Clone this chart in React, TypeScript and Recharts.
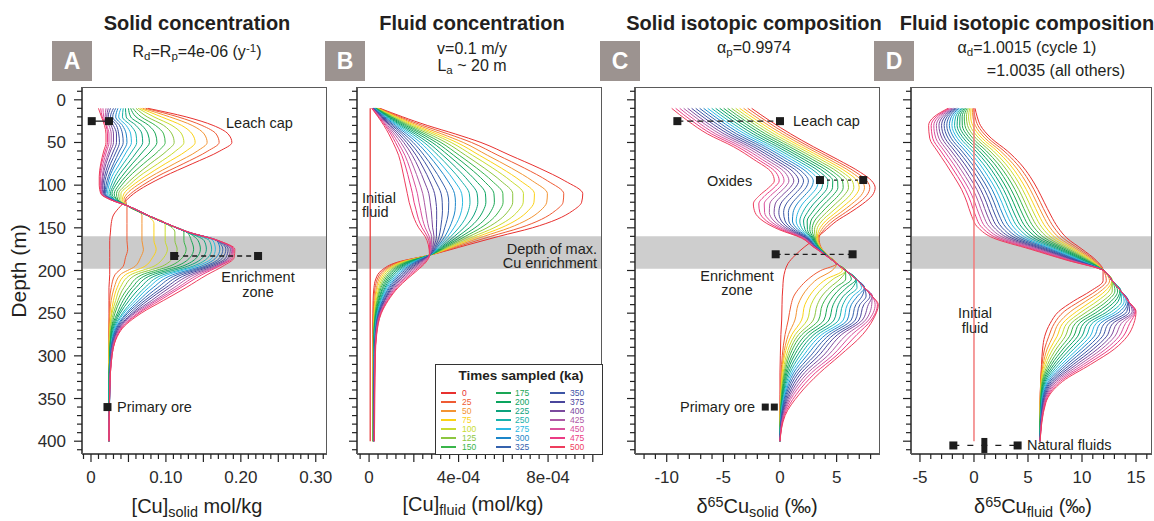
import React from "react";
import { LineChart, Line, XAxis, YAxis, ReferenceArea, ReferenceLine, ReferenceDot } from "recharts";

const FONT = '"Liberation Sans", Arial, Helvetica, sans-serif';
const INK = "#231f20";

const TIMES = [0, 25, 50, 75, 100, 125, 150, 175, 200, 225, 250, 275, 300, 325, 350, 375, 400, 425, 450, 475, 500];
const TIME_COLORS = [
  "#e8312f", "#ef5b34", "#f39433", "#fcd217", "#c9dc2f", "#8cc63f", "#39b54a",
  "#1aa655", "#0aa45e", "#0ba27c", "#17b2ac", "#2ab9e3", "#1c86c9", "#3562ad",
  "#3c55a5", "#4a469c", "#7b4a9e", "#ad5aa5", "#d9509d", "#eb3b84", "#ee3d5d",
];

// A: solid [Cu], mol/kg — one row per depth, one value per time
const depthA = [10, 20, 30, 40, 50, 60, 75, 90, 100, 110, 117, 125, 135, 145, 155, 165, 175, 185, 195, 205, 220, 235, 250, 270, 300, 340, 400];
const solidConc = [
  [0.076, 0.073, 0.069, 0.066, 0.063, 0.060, 0.056, 0.053, 0.050, 0.046, 0.043, 0.040, 0.036, 0.033, 0.030, 0.026, 0.023, 0.020, 0.016, 0.013, 0.010],
  [0.127, 0.116, 0.105, 0.094, 0.084, 0.075, 0.067, 0.060, 0.053, 0.047, 0.042, 0.037, 0.033, 0.029, 0.026, 0.023, 0.021, 0.019, 0.017, 0.015, 0.014],
  [0.163, 0.148, 0.135, 0.121, 0.108, 0.097, 0.086, 0.077, 0.068, 0.060, 0.053, 0.047, 0.042, 0.038, 0.034, 0.030, 0.027, 0.024, 0.021, 0.020, 0.018],
  [0.183, 0.167, 0.151, 0.135, 0.121, 0.108, 0.097, 0.086, 0.076, 0.068, 0.060, 0.053, 0.047, 0.042, 0.037, 0.034, 0.030, 0.027, 0.024, 0.022, 0.020],
  [0.188, 0.171, 0.155, 0.139, 0.124, 0.111, 0.099, 0.088, 0.078, 0.069, 0.061, 0.054, 0.048, 0.043, 0.038, 0.034, 0.030, 0.027, 0.024, 0.022, 0.020],
  [0.172, 0.156, 0.142, 0.127, 0.113, 0.101, 0.090, 0.080, 0.070, 0.062, 0.055, 0.048, 0.043, 0.038, 0.034, 0.030, 0.026, 0.024, 0.021, 0.019, 0.017],
  [0.135, 0.123, 0.111, 0.099, 0.089, 0.079, 0.070, 0.062, 0.055, 0.049, 0.043, 0.038, 0.033, 0.030, 0.026, 0.023, 0.020, 0.018, 0.016, 0.014, 0.013],
  [0.097, 0.088, 0.080, 0.072, 0.064, 0.058, 0.051, 0.046, 0.041, 0.036, 0.032, 0.028, 0.025, 0.023, 0.020, 0.018, 0.016, 0.015, 0.013, 0.012, 0.011],
  [0.075, 0.069, 0.062, 0.056, 0.051, 0.046, 0.041, 0.037, 0.033, 0.030, 0.027, 0.024, 0.022, 0.020, 0.018, 0.016, 0.015, 0.014, 0.013, 0.012, 0.011],
  [0.057, 0.053, 0.048, 0.044, 0.040, 0.037, 0.034, 0.031, 0.028, 0.026, 0.024, 0.022, 0.020, 0.019, 0.018, 0.017, 0.016, 0.015, 0.014, 0.014, 0.013],
  [0.048, 0.046, 0.044, 0.042, 0.040, 0.038, 0.036, 0.035, 0.034, 0.032, 0.031, 0.030, 0.030, 0.029, 0.028, 0.028, 0.027, 0.027, 0.026, 0.026, 0.026],
  [0.039, 0.048, 0.050, 0.050, 0.050, 0.050, 0.050, 0.050, 0.050, 0.050, 0.050, 0.051, 0.051, 0.051, 0.051, 0.051, 0.051, 0.051, 0.051, 0.051, 0.051],
  [0.030, 0.048, 0.068, 0.074, 0.074, 0.074, 0.074, 0.074, 0.074, 0.074, 0.074, 0.075, 0.075, 0.075, 0.075, 0.075, 0.075, 0.075, 0.075, 0.075, 0.075],
  [0.027, 0.048, 0.068, 0.084, 0.099, 0.100, 0.100, 0.100, 0.100, 0.100, 0.100, 0.101, 0.101, 0.101, 0.101, 0.101, 0.101, 0.101, 0.101, 0.101, 0.101],
  [0.026, 0.048, 0.068, 0.084, 0.099, 0.112, 0.124, 0.128, 0.128, 0.128, 0.128, 0.129, 0.129, 0.129, 0.129, 0.129, 0.130, 0.130, 0.130, 0.130, 0.130],
  [0.025, 0.048, 0.068, 0.084, 0.099, 0.112, 0.124, 0.134, 0.143, 0.151, 0.158, 0.163, 0.168, 0.168, 0.168, 0.169, 0.169, 0.169, 0.170, 0.170, 0.170],
  [0.025, 0.049, 0.070, 0.087, 0.102, 0.115, 0.127, 0.137, 0.146, 0.154, 0.161, 0.166, 0.172, 0.176, 0.180, 0.183, 0.186, 0.188, 0.189, 0.190, 0.192],
  [0.025, 0.046, 0.066, 0.082, 0.097, 0.110, 0.122, 0.132, 0.141, 0.149, 0.156, 0.162, 0.167, 0.172, 0.176, 0.180, 0.183, 0.185, 0.187, 0.189, 0.191],
  [0.025, 0.043, 0.059, 0.072, 0.084, 0.095, 0.105, 0.114, 0.122, 0.129, 0.136, 0.141, 0.147, 0.152, 0.156, 0.160, 0.164, 0.167, 0.169, 0.171, 0.176],
  [0.025, 0.032, 0.039, 0.046, 0.053, 0.060, 0.068, 0.075, 0.082, 0.089, 0.096, 0.102, 0.109, 0.115, 0.121, 0.127, 0.133, 0.138, 0.143, 0.148, 0.155],
  [0.024, 0.027, 0.031, 0.035, 0.039, 0.044, 0.050, 0.055, 0.060, 0.066, 0.072, 0.077, 0.083, 0.089, 0.095, 0.100, 0.105, 0.111, 0.116, 0.120, 0.127],
  [0.024, 0.025, 0.027, 0.030, 0.033, 0.036, 0.039, 0.043, 0.047, 0.051, 0.056, 0.060, 0.064, 0.068, 0.072, 0.076, 0.081, 0.085, 0.088, 0.092, 0.097],
  [0.024, 0.025, 0.025, 0.027, 0.028, 0.030, 0.032, 0.035, 0.037, 0.039, 0.042, 0.044, 0.047, 0.049, 0.052, 0.055, 0.057, 0.059, 0.062, 0.064, 0.067],
  [0.024, 0.024, 0.024, 0.025, 0.025, 0.026, 0.027, 0.027, 0.028, 0.029, 0.030, 0.031, 0.032, 0.033, 0.034, 0.035, 0.036, 0.037, 0.038, 0.039, 0.040],
  [0.024, 0.024, 0.024, 0.024, 0.024, 0.025, 0.025, 0.025, 0.025, 0.025, 0.026, 0.026, 0.026, 0.026, 0.027, 0.027, 0.027, 0.027, 0.028, 0.028, 0.028],
  [0.024, 0.024, 0.024, 0.024, 0.024, 0.024, 0.024, 0.024, 0.024, 0.024, 0.024, 0.025, 0.025, 0.025, 0.025, 0.025, 0.025, 0.025, 0.025, 0.025, 0.025],
  [0.024, 0.024, 0.024, 0.024, 0.024, 0.024, 0.024, 0.024, 0.024, 0.024, 0.024, 0.024, 0.024, 0.024, 0.024, 0.024, 0.024, 0.024, 0.024, 0.024, 0.024],
];

// B: fluid [Cu], in units of 1e-4 mol/kg
const depthB = [10, 20, 30, 40, 50, 65, 80, 95, 110, 120, 130, 140, 150, 160, 170, 182, 190, 200, 210, 220, 235, 250, 275, 300, 350, 400];
const fluidConc = [
  [0.49, 0.45, 0.42, 0.39, 0.36, 0.34, 0.32, 0.30, 0.28, 0.27, 0.25, 0.23, 0.22, 0.20, 0.19, 0.18, 0.17, 0.15, 0.14, 0.13, 0.12],
  [1.50, 1.38, 1.28, 1.20, 1.13, 1.06, 1.00, 0.94, 0.89, 0.84, 0.79, 0.74, 0.70, 0.65, 0.61, 0.57, 0.53, 0.50, 0.46, 0.43, 0.40],
  [2.60, 2.39, 2.21, 2.06, 1.94, 1.83, 1.72, 1.62, 1.52, 1.43, 1.34, 1.26, 1.18, 1.10, 1.03, 0.96, 0.90, 0.83, 0.77, 0.72, 0.66],
  [3.85, 3.53, 3.25, 3.03, 2.85, 2.67, 2.50, 2.35, 2.20, 2.06, 1.93, 1.80, 1.68, 1.56, 1.45, 1.34, 1.24, 1.14, 1.05, 0.97, 0.88],
  [5.00, 4.58, 4.21, 3.92, 3.67, 3.43, 3.21, 3.01, 2.82, 2.63, 2.46, 2.29, 2.13, 1.97, 1.82, 1.68, 1.55, 1.42, 1.29, 1.18, 1.07],
  [6.30, 5.76, 5.29, 4.93, 4.62, 4.31, 4.03, 3.78, 3.54, 3.30, 3.08, 2.86, 2.66, 2.46, 2.28, 2.10, 1.93, 1.76, 1.60, 1.46, 1.32],
  [7.60, 6.94, 6.36, 5.91, 5.53, 5.15, 4.81, 4.50, 4.20, 3.91, 3.63, 3.37, 3.12, 2.87, 2.65, 2.43, 2.22, 2.01, 1.82, 1.65, 1.47],
  [8.75, 7.98, 7.30, 6.77, 6.33, 5.89, 5.49, 5.13, 4.78, 4.44, 4.12, 3.81, 3.52, 3.23, 2.96, 2.71, 2.46, 2.22, 2.00, 1.80, 1.59],
  [9.55, 8.70, 7.97, 7.39, 6.90, 6.42, 5.98, 5.58, 5.20, 4.83, 4.48, 4.14, 3.82, 3.51, 3.22, 2.93, 2.67, 2.40, 2.16, 1.94, 1.71],
  [9.50, 8.67, 7.94, 7.37, 6.89, 6.42, 5.99, 5.60, 5.22, 4.86, 4.51, 4.18, 3.86, 3.56, 3.27, 2.99, 2.73, 2.47, 2.23, 2.01, 1.79],
  [9.10, 8.32, 7.65, 7.11, 6.67, 6.23, 5.82, 5.46, 5.10, 4.77, 4.44, 4.13, 3.84, 3.55, 3.28, 3.02, 2.78, 2.53, 2.31, 2.11, 1.90],
  [8.40, 7.71, 7.11, 6.64, 6.25, 5.86, 5.50, 5.18, 4.86, 4.57, 4.28, 4.00, 3.74, 3.49, 3.25, 3.02, 2.81, 2.59, 2.39, 2.21, 2.03],
  [7.30, 6.75, 6.27, 5.90, 5.58, 5.27, 4.99, 4.73, 4.48, 4.24, 4.01, 3.79, 3.59, 3.38, 3.20, 3.01, 2.84, 2.67, 2.51, 2.37, 2.22],
  [5.80, 5.44, 5.13, 4.89, 4.68, 4.48, 4.30, 4.13, 3.97, 3.81, 3.66, 3.52, 3.39, 3.26, 3.13, 3.01, 2.90, 2.79, 2.69, 2.60, 2.50],
  [4.40, 4.21, 4.05, 3.92, 3.81, 3.70, 3.60, 3.51, 3.43, 3.35, 3.27, 3.19, 3.12, 3.05, 2.99, 2.92, 2.86, 2.80, 2.75, 2.70, 2.65],
  [2.70, 2.70, 2.70, 2.70, 2.70, 2.70, 2.70, 2.70, 2.70, 2.70, 2.70, 2.70, 2.70, 2.70, 2.70, 2.70, 2.70, 2.70, 2.70, 2.70, 2.70],
  [1.30, 1.36, 1.43, 1.49, 1.55, 1.61, 1.68, 1.74, 1.80, 1.86, 1.93, 1.99, 2.05, 2.11, 2.18, 2.24, 2.30, 2.36, 2.43, 2.49, 2.55],
  [0.55, 0.63, 0.71, 0.79, 0.87, 0.95, 1.03, 1.11, 1.19, 1.27, 1.35, 1.43, 1.51, 1.59, 1.67, 1.75, 1.83, 1.91, 1.99, 2.07, 2.15],
  [0.30, 0.37, 0.44, 0.51, 0.58, 0.65, 0.72, 0.79, 0.86, 0.93, 1.00, 1.07, 1.14, 1.21, 1.28, 1.35, 1.42, 1.49, 1.56, 1.63, 1.70],
  [0.22, 0.27, 0.33, 0.38, 0.44, 0.49, 0.54, 0.60, 0.65, 0.71, 0.76, 0.81, 0.87, 0.92, 0.98, 1.03, 1.08, 1.14, 1.19, 1.25, 1.30],
  [0.18, 0.21, 0.25, 0.28, 0.32, 0.35, 0.38, 0.42, 0.45, 0.49, 0.52, 0.55, 0.59, 0.62, 0.66, 0.69, 0.72, 0.76, 0.79, 0.83, 0.86],
  [0.17, 0.19, 0.21, 0.23, 0.25, 0.27, 0.28, 0.30, 0.32, 0.34, 0.36, 0.38, 0.40, 0.42, 0.44, 0.46, 0.47, 0.49, 0.51, 0.53, 0.55],
  [0.16, 0.17, 0.18, 0.19, 0.20, 0.21, 0.21, 0.22, 0.23, 0.24, 0.25, 0.26, 0.27, 0.28, 0.29, 0.30, 0.30, 0.31, 0.32, 0.33, 0.34],
  [0.16, 0.17, 0.17, 0.18, 0.18, 0.19, 0.20, 0.20, 0.21, 0.21, 0.22, 0.23, 0.23, 0.24, 0.24, 0.25, 0.26, 0.26, 0.27, 0.27, 0.28],
  [0.16, 0.16, 0.17, 0.17, 0.18, 0.18, 0.19, 0.19, 0.20, 0.20, 0.21, 0.21, 0.21, 0.22, 0.22, 0.23, 0.23, 0.24, 0.24, 0.25, 0.25],
  [0.16, 0.16, 0.17, 0.17, 0.18, 0.18, 0.18, 0.19, 0.19, 0.20, 0.20, 0.20, 0.21, 0.21, 0.22, 0.22, 0.22, 0.23, 0.23, 0.24, 0.24],
];

// C: δ65Cu solid (‰)
const depthC = [10, 25, 40, 55, 70, 85, 95, 103, 112, 122, 132, 142, 152, 162, 172, 182, 192, 200, 210, 220, 230, 240, 258, 275, 300, 320, 345, 370, 400];
const solidDelta = [
  [-2.50, -2.85, -3.21, -3.56, -3.91, -4.27, -4.62, -4.97, -5.32, -5.68, -6.03, -6.38, -6.74, -7.09, -7.44, -7.80, -8.15, -8.50, -8.85, -9.21, -9.56],
  [-0.85, -1.21, -1.58, -1.94, -2.30, -2.66, -3.03, -3.39, -3.75, -4.11, -4.48, -4.84, -5.20, -5.56, -5.93, -6.29, -6.65, -7.01, -7.38, -7.74, -8.10],
  [0.95, 0.58, 0.22, -0.15, -0.52, -0.89, -1.26, -1.62, -1.99, -2.36, -2.73, -3.09, -3.46, -3.83, -4.20, -4.56, -4.93, -5.30, -5.67, -6.03, -6.40],
  [2.95, 2.60, 2.25, 1.89, 1.54, 1.19, 0.84, 0.48, 0.13, -0.22, -0.58, -0.93, -1.28, -1.63, -1.99, -2.34, -2.69, -3.04, -3.40, -3.75, -4.10],
  [5.10, 4.73, 4.36, 3.99, 3.62, 3.25, 2.88, 2.51, 2.14, 1.77, 1.40, 1.03, 0.66, 0.29, -0.08, -0.45, -0.82, -1.19, -1.56, -1.93, -2.30],
  [7.10, 6.71, 6.32, 5.92, 5.53, 5.14, 4.75, 4.35, 3.96, 3.57, 3.18, 2.78, 2.39, 2.00, 1.61, 1.21, 0.82, 0.43, 0.04, -0.36, -0.75],
  [8.10, 7.67, 7.24, 6.81, 6.38, 5.95, 5.52, 5.09, 4.66, 4.23, 3.80, 3.37, 2.94, 2.51, 2.08, 1.65, 1.22, 0.79, 0.36, -0.07, -0.50],
  [8.40, 7.93, 7.46, 6.99, 6.52, 6.05, 5.58, 5.11, 4.64, 4.17, 3.70, 3.23, 2.76, 2.29, 1.82, 1.35, 0.88, 0.41, -0.06, -0.53, -1.00],
  [8.15, 7.65, 7.16, 6.66, 6.16, 5.66, 5.17, 4.67, 4.17, 3.67, 3.18, 2.68, 2.18, 1.68, 1.19, 0.69, 0.19, -0.31, -0.81, -1.30, -1.80],
  [7.30, 6.82, 6.34, 5.85, 5.37, 4.89, 4.41, 3.92, 3.44, 2.96, 2.48, 1.99, 1.51, 1.03, 0.55, 0.06, -0.42, -0.90, -1.39, -1.87, -2.35],
  [6.20, 5.78, 5.36, 4.94, 4.52, 4.10, 3.68, 3.26, 2.84, 2.42, 2.00, 1.58, 1.16, 0.74, 0.32, -0.10, -0.52, -0.94, -1.36, -1.78, -2.20],
  [5.00, 4.68, 4.35, 4.03, 3.70, 3.38, 3.05, 2.73, 2.40, 2.08, 1.75, 1.43, 1.10, 0.78, 0.45, 0.13, -0.20, -0.53, -0.85, -1.18, -1.50],
  [4.10, 3.89, 3.68, 3.47, 3.26, 3.05, 2.84, 2.63, 2.42, 2.21, 2.00, 1.79, 1.58, 1.37, 1.16, 0.95, 0.74, 0.53, 0.32, 0.11, -0.10],
  [3.20, 3.45, 3.37, 3.29, 3.20, 3.12, 3.04, 2.96, 2.88, 2.79, 2.71, 2.63, 2.55, 2.47, 2.38, 2.30, 2.22, 2.14, 2.06, 1.97, 1.90],
  [2.20, 3.60, 3.56, 3.53, 3.49, 3.45, 3.42, 3.38, 3.34, 3.30, 3.27, 3.23, 3.19, 3.16, 3.12, 3.08, 3.04, 3.01, 2.97, 2.93, 2.90],
  [1.35, 4.20, 4.19, 4.18, 4.17, 4.16, 4.15, 4.14, 4.13, 4.12, 4.11, 4.10, 4.09, 4.08, 4.07, 4.06, 4.05, 4.04, 4.03, 4.02, 4.00],
  [0.70, 5.00, 5.00, 5.00, 5.00, 5.00, 5.00, 5.00, 5.00, 5.00, 5.00, 5.00, 5.00, 5.00, 5.00, 5.00, 5.00, 5.00, 5.00, 5.00, 5.00],
  [0.45, 3.60, 4.60, 5.50, 5.80, 5.80, 5.80, 5.80, 5.80, 5.80, 5.80, 5.80, 5.80, 5.80, 5.80, 5.80, 5.80, 5.80, 5.80, 5.80, 5.80],
  [0.30, 2.50, 3.30, 4.10, 4.70, 5.30, 5.80, 6.30, 6.70, 6.72, 6.72, 6.72, 6.72, 6.72, 6.72, 6.72, 6.72, 6.72, 6.72, 6.72, 6.72],
  [0.25, 1.75, 2.50, 3.20, 3.80, 4.40, 4.90, 5.40, 5.90, 6.40, 6.80, 7.20, 7.45, 7.45, 7.45, 7.45, 7.45, 7.45, 7.45, 7.45, 7.45],
  [0.20, 1.22, 1.95, 2.60, 3.15, 3.70, 4.20, 4.70, 5.15, 5.60, 6.00, 6.45, 6.85, 7.25, 7.60, 7.95, 8.14, 8.14, 8.14, 8.14, 8.14],
  [0.18, 0.98, 1.60, 2.20, 2.75, 3.30, 3.75, 4.25, 4.70, 5.15, 5.55, 5.95, 6.30, 6.70, 7.05, 7.40, 7.80, 8.10, 8.40, 8.60, 8.68],
  [0.15, 0.73, 1.32, 1.91, 2.41, 2.94, 3.41, 3.88, 4.32, 4.77, 5.18, 5.59, 5.94, 6.29, 6.65, 6.97, 7.27, 7.56, 7.83, 8.06, 8.20],
  [0.08, 0.45, 0.75, 1.05, 1.35, 1.65, 1.95, 2.30, 2.65, 3.00, 3.35, 3.70, 4.05, 4.40, 4.75, 5.10, 5.45, 5.90, 6.35, 6.80, 7.30],
  [0.03, 0.20, 0.30, 0.40, 0.55, 0.70, 0.85, 1.05, 1.25, 1.50, 1.75, 2.05, 2.35, 2.70, 3.05, 3.40, 3.80, 4.20, 4.60, 4.95, 5.25],
  [0.00, 0.10, 0.15, 0.20, 0.28, 0.35, 0.43, 0.52, 0.62, 0.74, 0.88, 1.03, 1.20, 1.40, 1.62, 1.87, 2.15, 2.45, 2.77, 3.12, 3.50],
  [0.00, 0.03, 0.05, 0.07, 0.10, 0.13, 0.16, 0.20, 0.24, 0.29, 0.34, 0.40, 0.47, 0.55, 0.65, 0.77, 0.90, 1.05, 1.22, 1.45, 1.70],
  [0.00, 0.00, 0.01, 0.01, 0.02, 0.03, 0.04, 0.05, 0.06, 0.07, 0.09, 0.10, 0.12, 0.14, 0.17, 0.20, 0.24, 0.28, 0.32, 0.38, 0.45],
  [0.00, 0.00, 0.00, 0.00, 0.00, 0.00, 0.00, 0.00, 0.00, 0.00, 0.00, 0.00, 0.00, 0.00, 0.00, 0.00, 0.00, 0.00, 0.00, 0.00, 0.00],
];

// D: δ65Cu fluid (‰)
const depthD = [10, 20, 30, 45, 60, 75, 90, 105, 120, 135, 150, 162, 175, 188, 200, 212, 224, 236, 248, 262, 277, 292, 310, 330, 355, 400];
const fluidDelta = [
  [0.10, -0.03, -0.15, -0.28, -0.40, -0.53, -0.65, -0.78, -0.90, -1.03, -1.15, -1.28, -1.40, -1.53, -1.65, -1.78, -1.90, -2.03, -2.15, -2.28, -2.40],
  [0.30, 0.10, -0.10, -0.30, -0.50, -0.70, -0.90, -1.10, -1.30, -1.50, -1.70, -1.90, -2.10, -2.30, -2.50, -2.70, -2.90, -3.10, -3.30, -3.50, -3.70],
  [0.60, 0.36, 0.12, -0.12, -0.36, -0.60, -0.84, -1.08, -1.32, -1.56, -1.80, -2.04, -2.28, -2.52, -2.76, -3.00, -3.24, -3.48, -3.72, -3.96, -4.20],
  [1.60, 1.32, 1.03, 0.75, 0.46, 0.18, -0.11, -0.40, -0.68, -0.97, -1.25, -1.54, -1.82, -2.11, -2.39, -2.68, -2.96, -3.25, -3.53, -3.82, -4.10],
  [3.10, 2.78, 2.45, 2.13, 1.80, 1.48, 1.15, 0.83, 0.50, 0.18, -0.15, -0.48, -0.80, -1.13, -1.45, -1.78, -2.10, -2.43, -2.75, -3.08, -3.40],
  [4.30, 3.96, 3.61, 3.27, 2.92, 2.58, 2.23, 1.89, 1.54, 1.20, 0.85, 0.51, 0.16, -0.19, -0.53, -0.88, -1.22, -1.57, -1.91, -2.26, -2.60],
  [5.20, 4.85, 4.50, 4.14, 3.79, 3.44, 3.09, 2.73, 2.38, 2.03, 1.68, 1.32, 0.97, 0.62, 0.27, -0.09, -0.44, -0.79, -1.15, -1.50, -1.85],
  [5.90, 5.55, 5.20, 4.84, 4.49, 4.14, 3.79, 3.43, 3.08, 2.73, 2.38, 2.02, 1.67, 1.32, 0.97, 0.61, 0.26, -0.09, -0.45, -0.80, -1.15],
  [6.50, 6.14, 5.79, 5.43, 5.07, 4.71, 4.36, 4.00, 3.64, 3.28, 2.93, 2.57, 2.21, 1.85, 1.50, 1.14, 0.78, 0.42, 0.07, -0.29, -0.65],
  [7.10, 6.73, 6.37, 6.00, 5.63, 5.26, 4.90, 4.53, 4.16, 3.79, 3.43, 3.06, 2.69, 2.32, 1.96, 1.59, 1.22, 0.85, 0.49, 0.12, -0.25],
  [7.80, 7.43, 7.06, 6.69, 6.32, 5.95, 5.58, 5.21, 4.84, 4.47, 4.10, 3.73, 3.36, 2.99, 2.62, 2.25, 1.88, 1.51, 1.14, 0.77, 0.40],
  [8.60, 8.26, 7.92, 7.58, 7.24, 6.90, 6.56, 6.22, 5.88, 5.54, 5.20, 4.86, 4.52, 4.18, 3.84, 3.50, 3.16, 2.82, 2.48, 2.14, 1.80],
  [10.00, 9.76, 9.52, 9.28, 9.04, 8.80, 8.56, 8.32, 8.08, 7.84, 7.60, 7.36, 7.12, 6.88, 6.64, 6.40, 6.16, 5.92, 5.68, 5.44, 5.20],
  [11.30, 11.17, 11.03, 10.90, 10.76, 10.63, 10.49, 10.36, 10.22, 10.09, 9.95, 9.82, 9.68, 9.55, 9.41, 9.28, 9.14, 9.01, 8.87, 8.74, 8.60],
  [11.95, 12.00, 12.00, 12.00, 12.00, 12.00, 12.00, 12.00, 12.00, 12.00, 12.00, 12.00, 12.00, 12.00, 12.00, 12.00, 12.00, 12.00, 12.00, 12.00, 12.00],
  [11.95, 12.25, 12.55, 12.75, 12.80, 12.80, 12.80, 12.80, 12.80, 12.80, 12.80, 12.80, 12.80, 12.80, 12.80, 12.80, 12.80, 12.80, 12.80, 12.80, 12.80],
  [10.80, 11.30, 11.75, 12.15, 12.50, 12.80, 13.05, 13.30, 13.50, 13.60, 13.60, 13.60, 13.60, 13.60, 13.60, 13.60, 13.60, 13.60, 13.60, 13.60, 13.60],
  [9.20, 9.80, 10.35, 10.90, 11.40, 11.90, 12.30, 12.70, 13.05, 13.35, 13.65, 13.90, 14.10, 14.25, 14.30, 14.30, 14.30, 14.30, 14.30, 14.30, 14.30],
  [7.85, 8.35, 8.95, 9.50, 10.00, 10.50, 11.00, 11.45, 11.90, 12.35, 12.75, 13.15, 13.50, 13.85, 14.15, 14.40, 14.65, 14.80, 14.90, 14.95, 15.00],
  [7.05, 7.44, 7.83, 8.21, 8.60, 8.99, 9.38, 9.76, 10.15, 10.54, 10.93, 11.31, 11.70, 12.09, 12.48, 12.86, 13.25, 13.64, 14.03, 14.41, 14.80],
  [6.55, 6.93, 7.32, 7.70, 8.08, 8.46, 8.85, 9.23, 9.61, 9.99, 10.38, 10.76, 11.14, 11.52, 11.91, 12.29, 12.67, 13.05, 13.44, 13.82, 14.20],
  [6.35, 6.53, 6.77, 7.03, 7.31, 7.61, 7.92, 8.24, 8.56, 8.90, 9.24, 9.60, 9.95, 10.31, 10.69, 11.06, 11.44, 11.82, 12.21, 12.60, 13.00],
  [6.25, 6.30, 6.40, 6.51, 6.65, 6.82, 7.00, 7.19, 7.40, 7.62, 7.86, 8.11, 8.37, 8.63, 8.92, 9.21, 9.51, 9.82, 10.14, 10.46, 10.80],
  [6.17, 6.18, 6.19, 6.22, 6.25, 6.30, 6.35, 6.42, 6.49, 6.58, 6.68, 6.78, 6.90, 7.03, 7.16, 7.31, 7.47, 7.64, 7.81, 8.00, 8.20],
  [6.12, 6.12, 6.13, 6.13, 6.14, 6.15, 6.17, 6.18, 6.20, 6.23, 6.25, 6.28, 6.31, 6.34, 6.38, 6.42, 6.46, 6.50, 6.55, 6.60, 6.65],
  [6.10, 6.10, 6.10, 6.10, 6.10, 6.10, 6.10, 6.10, 6.10, 6.10, 6.12, 6.12, 6.12, 6.12, 6.12, 6.12, 6.12, 6.12, 6.12, 6.12, 6.12],
];

// enrichment band and the marker points
const BAND_DEPTH = [160, 198];
const initialFluidB = 0.05;
const initialFluidD = 0;
const fluidSpan = [10, 400];
const leachCapA = [0.001, 0.024];
const enrichA = [0.111, 0.223];
const primaryA = 0.022;
const leachCapC = [-9.06, 0];
const oxidesC = [3.53, 7.35];
const enrichC = [-0.38, 6.41];
const primaryC = [-1.3, -0.5];
const naturalD = [-1.91, 0.96, 4.04];

const range = (start: number, stop: number, step: number) => {
  const out: number[] = [];
  for (let k = 0; ; k++) {
    const v = +(start + k * step).toFixed(4);
    if (v > stop + 1e-9) break;
    out.push(v);
  }
  return out;
};
const DEPTH_TICKS = range(-10, 410, 10);
const DEPTH_LABELS = range(0, 400, 50);

const isMult = (v: number, step: number) => Math.abs(v / step - Math.round(v / step)) < 1e-6;

function xTick(t: any, cfg: any) {
  const v = t.payload.value;
  const major = isMult(v, cfg.majorStep);
  const labelled = cfg.xLabels.some((l: number) => Math.abs(l - v) < 1e-9);
  return (
    <g>
      <line x1={t.x} x2={t.x} y1={t.y} y2={t.y + (major ? 8 : 5)} stroke="#222" strokeWidth={1.2} />
      {labelled && (
        <text x={t.x} y={t.y + 29} textAnchor="middle" fontSize={17} fill="#2b2b2b" fontFamily={FONT}>
          {cfg.fmt(v)}
        </text>
      )}
    </g>
  );
}

function yTick(t: any, showLabels: boolean) {
  const v = t.payload.value;
  const major = isMult(v, 50);
  const labelled = showLabels && DEPTH_LABELS.includes(v);
  return (
    <g>
      <line x1={t.x - (major ? 8 : 5)} x2={t.x} y1={t.y} y2={t.y} stroke="#222" strokeWidth={1.2} />
      {labelled && (
        <text x={t.x - 16} y={t.y + 6} textAnchor="end" fontSize={17} fill="#2b2b2b" fontFamily={FONT}>
          {v}
        </text>
      )}
    </g>
  );
}

const square = (key: string, x: number, y: number, w = 8, h = 8) => (
  <ReferenceDot
    key={key}
    x={x}
    y={y}
    r={4}
    ifOverflow="visible"
    shape={(s: any) => <rect x={s.cx - w / 2} y={s.cy - h / 2} width={w} height={h} fill="#1d1d1d" />}
  />
);
const hline = (key: string, x1: number, x2: number, y: number, dash?: string) => (
  <ReferenceLine
    key={key}
    segment={[{ x: x1, y }, { x: x2, y }]}
    stroke="#1d1d1d"
    strokeWidth={1.3}
    strokeDasharray={dash}
    ifOverflow="visible"
  />
);

function Panel(p: any) {
  const rows = p.depths.map((d: number, j: number) => {
    const row: Record<string, number> = { depth: d };
    p.values[j].forEach((v: number, i: number) => {
      row[`t${i}`] = v;
    });
    return row;
  });
  const width = p.axisW + p.frameW + 6;
  return (
    <div style={{ position: "absolute", left: p.left, top: 82 }}>
      <LineChart width={width} height={417} data={rows} layout="vertical" margin={{ top: 5, right: 6, bottom: 0, left: 0 }}>
        <XAxis
          type="number"
          domain={p.xDomain}
          ticks={p.xTicks}
          interval={0}
          allowDataOverflow
          height={45}
          tickSize={0}
          tickMargin={0}
          tickLine={false}
          axisLine={{ stroke: "#222", strokeWidth: 1.5 }}
          tick={(t: any) => xTick(t, p)}
        />
        <YAxis
          type="number"
          dataKey="depth"
          domain={[-15, 415]}
          ticks={DEPTH_TICKS}
          interval={0}
          allowDataOverflow
          width={p.axisW}
          tickSize={0}
          tickMargin={0}
          tickLine={false}
          axisLine={{ stroke: "#222", strokeWidth: 1.5 }}
          tick={(t: any) => yTick(t, !!p.depthLabels)}
        />
        {TIME_COLORS.map((c, i) => (
          <Line
            key={i}
            dataKey={`t${i}`}
            type="monotoneY"
            stroke={c}
            strokeWidth={1}
            dot={false}
            activeDot={false}
            isAnimationActive={false}
          />
        ))}
        {p.under}
        <ReferenceArea y1={BAND_DEPTH[0]} y2={BAND_DEPTH[1]} fill={p.bandFill} fillOpacity={p.bandOpacity} stroke="none" />
        {p.extras}
      </LineChart>
    </div>
  );
}

const Sub = ({ children }: any) => (
  <span style={{ fontSize: "0.72em", position: "relative", top: "0.25em" }}>{children}</span>
);
const Sup = ({ children }: any) => (
  <span style={{ fontSize: "0.72em", position: "relative", top: "-0.45em" }}>{children}</span>
);

function Txt({ x, y, size = 14.5, anchor = "start", bold = false, color = INK, children }: any) {
  const w = 400;
  const left = anchor === "start" ? x : anchor === "middle" ? x - w / 2 : x - w;
  return (
    <div
      style={{
        position: "absolute",
        left,
        top: y - size * 0.49,
        width: w,
        fontSize: size,
        lineHeight: 1,
        fontWeight: bold ? 700 : 400,
        textAlign: anchor === "start" ? "left" : anchor === "middle" ? "center" : "right",
        color,
        whiteSpace: "nowrap",
        fontFamily: FONT,
        pointerEvents: "none",
      }}
    >
      {children}
    </div>
  );
}

const Frame = ({ x, w }: any) => (
  <div
    style={{
      position: "absolute",
      left: x,
      top: 87,
      width: w,
      height: 367,
      border: "1.5px solid #5a5a5a",
      boxSizing: "border-box",
      pointerEvents: "none",
    }}
  />
);

const Tag = ({ x, letter }: any) => (
  <div
    style={{
      position: "absolute",
      left: x,
      top: 41,
      width: 40,
      height: 40,
      background: "#9c9390",
      color: "#fff",
      fontWeight: 700,
      fontSize: 23,
      lineHeight: "40px",
      textAlign: "center",
      fontFamily: FONT,
    }}
  >
    {letter}
  </div>
);

function TimesLegend() {
  const lineX = [440, 495, 549];
  const textX = [461, 514, 569];
  return (
    <div
      style={{
        position: "absolute",
        left: 435,
        top: 364,
        width: 168,
        height: 91,
        border: "1.5px solid #333",
        boxSizing: "border-box",
        background: "#fff",
      }}
    >
      <Txt x={520 - 435} y={375 - 364} size={13.5} anchor="middle" bold>
        Times sampled (ka)
      </Txt>
      {TIMES.map((t, i) => {
        const c = Math.floor(i / 7);
        const r = i % 7;
        const cy = 392 + 9 * r - 364;
        return (
          <React.Fragment key={t}>
            <div
              style={{
                position: "absolute",
                left: lineX[c] - 435,
                top: cy - 1,
                width: 15,
                height: 2,
                background: TIME_COLORS[i],
              }}
            />
            <Txt x={textX[c] - 435} y={cy} size={8.5} color={TIME_COLORS[i]}>
              {t}
            </Txt>
          </React.Fragment>
        );
      })}
    </div>
  );
}

export default function App() {
  const extrasA = [
    hline("la", leachCapA[0], leachCapA[1], 25),
    square("la1", leachCapA[0], 25),
    square("la2", leachCapA[1], 25),
    hline("ea", enrichA[0], enrichA[1], 183, "5 4"),
    square("ea1", enrichA[0], 183),
    square("ea2", enrichA[1], 183),
    square("pa", primaryA, 360),
  ];
  const underB = [
    <ReferenceLine
      key="ib"
      segment={[{ x: initialFluidB, y: fluidSpan[0] }, { x: initialFluidB, y: fluidSpan[1] }]}
      stroke="#e8312f"
      strokeWidth={1.2}
    />,
  ];
  const extrasC = [
    hline("lc", leachCapC[0], leachCapC[1], 25, "6 4"),
    square("lc1", leachCapC[0], 25),
    square("lc2", leachCapC[1], 25),
    hline("oc", oxidesC[0], oxidesC[1], 94, "3 4"),
    square("oc1", oxidesC[0], 94),
    square("oc2", oxidesC[1], 94),
    hline("ec", enrichC[0], enrichC[1], 181, "5 4"),
    square("ec1", enrichC[0], 181),
    square("ec2", enrichC[1], 181),
    square("pc1", primaryC[0], 360, 7, 7),
    square("pc2", primaryC[1], 360, 7, 7),
  ];
  const underD = [
    <ReferenceLine
      key="id"
      segment={[{ x: initialFluidD, y: fluidSpan[0] }, { x: initialFluidD, y: fluidSpan[1] }]}
      stroke="#f27b7b"
      strokeWidth={1.5}
    />,
  ];
  const extrasD = [
    hline("nd", naturalD[0], naturalD[2], 405, "6 8"),
    square("nd1", naturalD[0], 405),
    square("nd2", naturalD[1], 405, 6, 15),
    square("nd3", naturalD[2], 405),
  ];

  return (
    <div
      style={{
        position: "absolute",
        left: 0,
        top: 0,
        width: 1154,
        height: 521,
        overflow: "hidden",
        background: "#fff",
        fontFamily: FONT,
      }}
    >
      <Panel
        left={0}
        axisW={82}
        frameW={245}
        depths={depthA}
        values={solidConc}
        xDomain={[-0.012, 0.315]}
        xTicks={range(-0.01, 0.31, 0.01)}
        majorStep={0.05}
        xLabels={[0, 0.1, 0.2, 0.3]}
        fmt={(v: number) => (v === 0 ? "0" : v.toFixed(2))}
        depthLabels
        bandFill="#b9b9b9"
        bandOpacity={0.74}
        extras={extrasA}
      />
      <Panel
        left={332}
        axisW={25}
        frameW={245}
        depths={depthB}
        values={fluidConc}
        xDomain={[-0.54, 10.41]}
        xTicks={range(-0.4, 10, 0.4)}
        majorStep={2}
        xLabels={[0, 4, 8]}
        fmt={(v: number) => (v === 0 ? "0" : `${v}e-04`)}
        bandFill="#b9b9b9"
        bandOpacity={0.74}
        under={underB}
      />
      <Panel
        left={610}
        axisW={25}
        frameW={245}
        depths={depthC}
        values={solidDelta}
        xDomain={[-12.8, 8.83]}
        xTicks={range(-12, 8, 1)}
        majorStep={5}
        xLabels={[-10, -5, 0, 5]}
        fmt={(v: number) => `${v}`}
        bandFill="#b3b3b3"
        bandOpacity={0.64}
        extras={extrasC}
      />
      <Panel
        left={886}
        axisW={25}
        frameW={241}
        depths={depthD}
        values={fluidDelta}
        xDomain={[-5.83, 16.48]}
        xTicks={range(-5, 16, 1)}
        majorStep={5}
        xLabels={[-5, 0, 5, 10, 15]}
        fmt={(v: number) => `${v}`}
        bandFill="#b9b9b9"
        bandOpacity={0.74}
        under={underD}
        extras={extrasD}
      />

      <Frame x={82} w={245} />
      <Frame x={357} w={245} />
      <Frame x={635} w={245} />
      <Frame x={911} w={241} />

      <TimesLegend />

      <Tag x={52} letter="A" />
      <Tag x={325} letter="B" />
      <Tag x={600} letter="C" />
      <Tag x={874} letter="D" />

      <Txt x={197} y={23} size={20} anchor="middle" bold>Solid concentration</Txt>
      <Txt x={472} y={23} size={20} anchor="middle" bold>Fluid concentration</Txt>
      <Txt x={754} y={23} size={20} anchor="middle" bold>Solid isotopic composition</Txt>
      <Txt x={1027} y={23} size={20} anchor="middle" bold>Fluid isotopic composition</Txt>

      <Txt x={197} y={52} size={16} anchor="middle">
        R<Sub>d</Sub>=R<Sub>p</Sub>=4e-06 (y<Sup>-1</Sup>)
      </Txt>
      <Txt x={472} y={49} size={16} anchor="middle">v=0.1 m/y</Txt>
      <Txt x={472} y={65.5} size={16} anchor="middle">
        L<Sub>a</Sub> ~ 20 m
      </Txt>
      <Txt x={754} y={48} size={16} anchor="middle">
        α<Sub>p</Sub>=0.9974
      </Txt>
      <Txt x={1027} y={48} size={16} anchor="middle">
        α<Sub>d</Sub>=1.0015 (cycle 1)
      </Txt>
      <Txt x={1056} y={71} size={16} anchor="middle">=1.0035 (all others)</Txt>

      <div
        style={{
          position: "absolute",
          left: 19 - 100,
          top: 271 - 11,
          width: 200,
          height: 22,
          lineHeight: "22px",
          fontSize: 21,
          textAlign: "center",
          color: INK,
          transform: "rotate(-90deg)",
          fontFamily: FONT,
        }}
      >
        Depth (m)
      </div>

      <Txt x={197} y={506} size={20} anchor="middle">
        [Cu]<Sub>solid</Sub> mol/kg
      </Txt>
      <Txt x={473} y={504} size={20} anchor="middle">
        [Cu]<Sub>fluid</Sub> (mol/kg)
      </Txt>
      <Txt x={757} y={506} size={20} anchor="middle">
        δ<Sup>65</Sup>Cu<Sub>solid</Sub> (‰)
      </Txt>
      <Txt x={1033} y={506} size={20} anchor="middle">
        δ<Sup>65</Sup>Cu<Sub>fluid</Sub> (‰)
      </Txt>

      <Txt x={226} y={123}>Leach cap</Txt>
      <Txt x={258} y={277} anchor="middle">Enrichment</Txt>
      <Txt x={258} y={292} anchor="middle">zone</Txt>
      <Txt x={117} y={407}>Primary ore</Txt>

      <Txt x={362} y={198}>Initial</Txt>
      <Txt x={362} y={212}>fluid</Txt>
      <Txt x={597} y={249} anchor="end">Depth of max.</Txt>
      <Txt x={597} y={263} anchor="end">Cu enrichment</Txt>

      <Txt x={793} y={121}>Leach cap</Txt>
      <Txt x={707} y={181}>Oxides</Txt>
      <Txt x={737} y={276} anchor="middle">Enrichment</Txt>
      <Txt x={737} y={290} anchor="middle">zone</Txt>
      <Txt x={755} y={407} anchor="end">Primary ore</Txt>

      <Txt x={975} y={313} anchor="middle">Initial</Txt>
      <Txt x={975} y={328} anchor="middle">fluid</Txt>
      <Txt x={1027} y={445}>Natural fluids</Txt>
    </div>
  );
}
